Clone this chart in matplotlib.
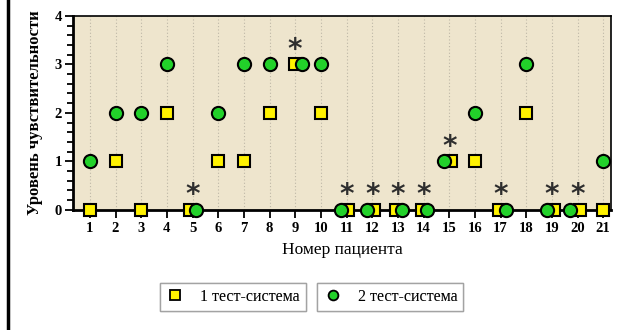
import matplotlib.pyplot as plt
from matplotlib.lines import Line2D
from matplotlib.ticker import MultipleLocator
import numpy as np

plt.rcParams["font.family"] = ["Liberation Serif", "DejaVu Serif"]

patients = list(range(1, 22))
system1 = [0, 1, 0, 2, 0, 1, 1, 2, 3, 2, 0, 0, 0, 0, 1, 1, 0, 2, 0, 0, 0]
system2 = [1, 2, 2, 3, 0, 2, 3, 3, 3, 3, 0, 0, 0, 0, 1, 2, 0, 3, 0, 0, 1]
# patients where the two systems agree (marked with an asterisk)
matched = [5, 9, 11, 12, 13, 14, 15, 17, 19, 20]

# small horizontal shifts so overlapping markers stay visible
shift1 = {5: -0.08, 11: 0.07, 12: 0.07, 13: -0.07, 14: -0.07, 15: 0.07,
          17: -0.05, 19: 0.07, 20: 0.08}
shift2 = {5: 0.15, 9: 0.25, 11: -0.22, 12: -0.2, 13: 0.15, 14: 0.15,
          15: -0.2, 17: 0.2, 19: -0.2, 20: -0.3}

x1 = np.array([p + shift1.get(p, 0) for p in patients])
x2 = np.array([p + shift2.get(p, 0) for p in patients])

fig = plt.figure(figsize=(6.23, 3.30), dpi=100)
ax = fig.add_axes([0.117, 0.364, 0.864, 0.588])
ax.set_facecolor("#EEE5CD")

for p in patients:
    ax.axvline(p, color="#BDB7A6", lw=0.8, ls=(0, (1, 2)), zorder=0)

ax.plot(x1, system1, ls="none", marker="s", ms=9, mfc="#FFF200", mec="black",
        mew=1.5, clip_on=False, zorder=3)
ax.plot(x2, system2, ls="none", marker="o", ms=9.5, mfc="#22D12A", mec="black",
        mew=1.5, clip_on=False, zorder=4)

for p in matched:
    y = max(system1[p - 1], system2[p - 1])
    ax.text(p, y + 0.3, "*", ha="center", va="center", fontsize=20,
            fontweight="bold", family="DejaVu Sans", color="#2E2E2E")

ax.set_xlim(0.34, 21.31)
ax.set_ylim(0, 4)
ax.set_xticks(patients)
ax.yaxis.set_major_locator(MultipleLocator(1))
ax.yaxis.set_minor_locator(MultipleLocator(0.2))
ax.tick_params(axis="y", which="major", length=6, width=1.3, labelsize=10.5, pad=2)
ax.tick_params(axis="y", which="minor", length=4, width=1.3)
ax.tick_params(axis="x", which="major", length=6, width=1.3, labelsize=10.5, pad=3)
for lbl in ax.get_xticklabels() + ax.get_yticklabels():
    lbl.set_fontweight("bold")

for side in ["left", "bottom"]:
    ax.spines[side].set_linewidth(2)
for side in ["top", "right"]:
    ax.spines[side].set_linewidth(1.2)

ax.set_xlabel("Номер пациента", fontsize=12.5, labelpad=5)
ax.set_ylabel("Уровень чувствительности", fontsize=12, fontweight="bold", labelpad=8)

h1 = Line2D([], [], ls="none", marker="s", ms=7, mfc="#FFF200", mec="black", mew=1.3)
h2 = Line2D([], [], ls="none", marker="o", ms=7, mfc="#22D12A", mec="black", mew=1.3)
for handle, text, xpos in [(h1, "1 тест-система", 0.3735), (h2, "2 тест-система", 0.6265)]:
    leg = fig.legend([handle], [text], loc="center", bbox_to_anchor=(xpos, 0.1),
                     fontsize=11.5, frameon=True, fancybox=False, handlelength=1.2,
                     handletextpad=1.0, borderpad=0.35, edgecolor="#999999")
    leg.get_frame().set_linewidth(1.0)
    fig.add_artist(leg)

fig.add_artist(Line2D([0.013, 0.013], [0, 1], color="black", lw=2.5,
                      transform=fig.transFigure))

fig.savefig("out.png", dpi=100)
